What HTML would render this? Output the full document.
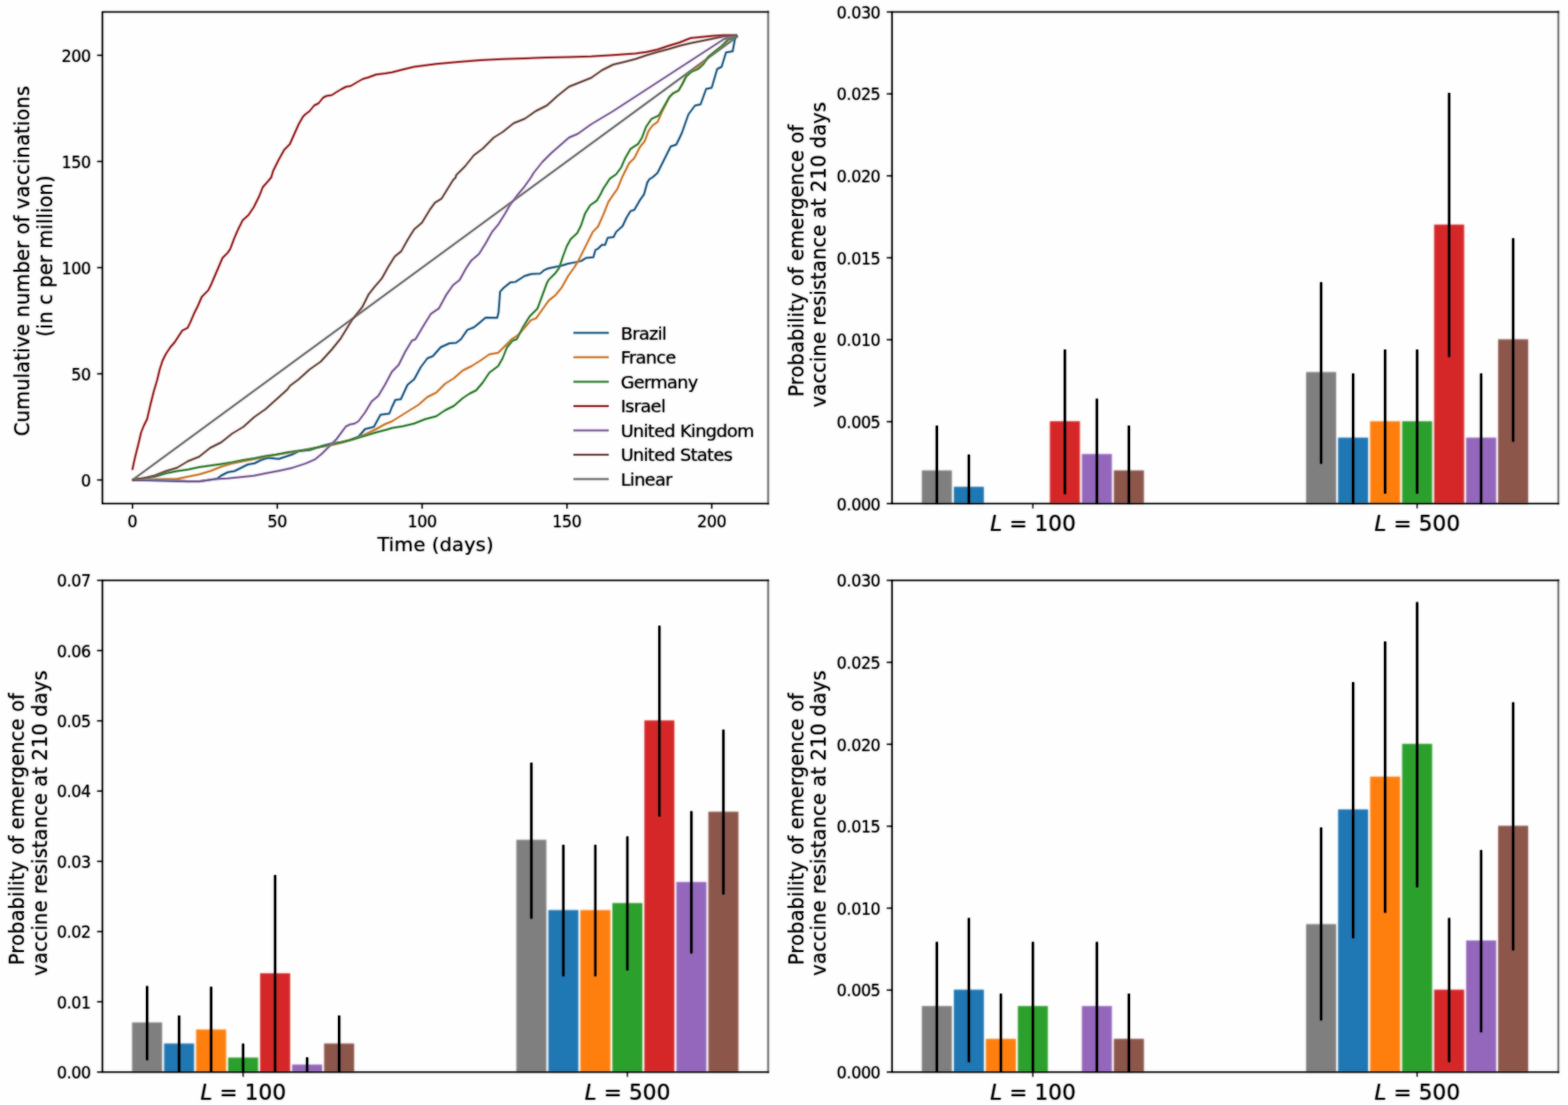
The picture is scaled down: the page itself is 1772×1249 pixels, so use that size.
<!DOCTYPE html>
<html lang="en">
<head>
<meta charset="utf-8">
<title>Vaccination curves and probability of emergence of vaccine resistance</title>
<style>
html,body{margin:0;padding:0;background:#fefefe;}
body{width:1772px;height:1249px;overflow:hidden;}
svg{display:block;font-family:"DejaVu Sans", "Liberation Sans", sans-serif;fill:#1c1c1c;}
</style>
</head>
<body>
<svg width="1772" height="1249" viewBox="0 0 1772 1249">
<defs>
<filter id="soft" x="0" y="0" width="1772" height="1249" filterUnits="userSpaceOnUse" color-interpolation-filters="sRGB"><feGaussianBlur stdDeviation="0.85" result="b"/><feComposite in="b" in2="SourceGraphic" operator="arithmetic" k1="0" k2="0.7" k3="0.30" k4="0"/></filter>
<filter id="softk" x="0" y="0" width="1772" height="1249" filterUnits="userSpaceOnUse" color-interpolation-filters="sRGB"><feGaussianBlur stdDeviation="0.85" result="b"/><feComposite in="b" in2="SourceGraphic" operator="arithmetic" k1="0" k2="0.6" k3="0.40" k4="0"/><feComponentTransfer><feFuncA type="linear" slope="1.32" intercept="0"/></feComponentTransfer></filter>
</defs>
<rect x="0" y="0" width="1772" height="1249" fill="#fefefe" stroke="none"/>
<g filter="url(#soft)">
<rect x="-5" y="-5" width="1782" height="1259" fill="#fefefe" stroke="none"/>
<line x1="868.1" y1="13.5" x2="868.1" y2="569.25" stroke="#585858" stroke-width="1.9" stroke-linecap="square"/>
<rect x="1041.79" y="531.7" width="33.9" height="37.55" fill="#7f7f7f"/>
<rect x="1077.96" y="550.23" width="33.9" height="19.03" fill="#1f77b4"/>
<rect x="1186.47" y="476.12" width="33.9" height="93.12" fill="#d62728"/>
<rect x="1222.64" y="513.17" width="33.9" height="56.08" fill="#9467bd"/>
<rect x="1258.81" y="531.7" width="33.9" height="37.55" fill="#8c564b"/>
<rect x="1476.04" y="420.55" width="33.9" height="148.7" fill="#7f7f7f"/>
<rect x="1512.21" y="494.65" width="33.9" height="74.6" fill="#1f77b4"/>
<rect x="1548.38" y="476.12" width="33.9" height="93.12" fill="#ff7f0e"/>
<rect x="1584.55" y="476.12" width="33.9" height="93.12" fill="#2ca02c"/>
<rect x="1620.72" y="253.82" width="33.9" height="315.43" fill="#d62728"/>
<rect x="1656.89" y="494.65" width="33.9" height="74.6" fill="#9467bd"/>
<rect x="1693.06" y="383.5" width="33.9" height="185.75" fill="#8c564b"/>
<line x1="1761.1" y1="13.5" x2="1761.1" y2="569.25" stroke="#585858" stroke-width="1.9" stroke-linecap="square"/>
<rect x="149.29" y="1155.67" width="33.9" height="56.07" fill="#7f7f7f"/>
<rect x="185.46" y="1179.49" width="33.9" height="32.26" fill="#1f77b4"/>
<rect x="221.63" y="1163.61" width="33.9" height="48.14" fill="#ff7f0e"/>
<rect x="257.8" y="1195.37" width="33.9" height="16.38" fill="#2ca02c"/>
<rect x="293.97" y="1100.1" width="33.9" height="111.65" fill="#d62728"/>
<rect x="330.14" y="1203.31" width="33.9" height="8.44" fill="#9467bd"/>
<rect x="366.31" y="1179.49" width="33.9" height="32.26" fill="#8c564b"/>
<rect x="583.54" y="949.25" width="33.9" height="262.5" fill="#7f7f7f"/>
<rect x="619.71" y="1028.65" width="33.9" height="183.1" fill="#1f77b4"/>
<rect x="655.88" y="1028.65" width="33.9" height="183.1" fill="#ff7f0e"/>
<rect x="692.05" y="1020.71" width="33.9" height="191.04" fill="#2ca02c"/>
<rect x="728.22" y="814.29" width="33.9" height="397.46" fill="#d62728"/>
<rect x="764.39" y="996.89" width="33.9" height="214.86" fill="#9467bd"/>
<rect x="800.56" y="917.5" width="33.9" height="294.25" fill="#8c564b"/>
<line x1="868.1" y1="656" x2="868.1" y2="1211.75" stroke="#585858" stroke-width="1.9" stroke-linecap="square"/>
<rect x="1041.79" y="1137.15" width="33.9" height="74.6" fill="#7f7f7f"/>
<rect x="1077.96" y="1118.62" width="33.9" height="93.12" fill="#1f77b4"/>
<rect x="1114.13" y="1174.2" width="33.9" height="37.55" fill="#ff7f0e"/>
<rect x="1150.3" y="1137.15" width="33.9" height="74.6" fill="#2ca02c"/>
<rect x="1222.64" y="1137.15" width="33.9" height="74.6" fill="#9467bd"/>
<rect x="1258.81" y="1174.2" width="33.9" height="37.55" fill="#8c564b"/>
<rect x="1476.04" y="1044.53" width="33.9" height="167.22" fill="#7f7f7f"/>
<rect x="1512.21" y="914.85" width="33.9" height="296.9" fill="#1f77b4"/>
<rect x="1548.38" y="877.8" width="33.9" height="333.95" fill="#ff7f0e"/>
<rect x="1584.55" y="840.75" width="33.9" height="371" fill="#2ca02c"/>
<rect x="1620.72" y="1118.62" width="33.9" height="93.12" fill="#d62728"/>
<rect x="1656.89" y="1063.05" width="33.9" height="148.7" fill="#9467bd"/>
<rect x="1693.06" y="933.38" width="33.9" height="278.38" fill="#8c564b"/>
<line x1="1761.1" y1="656" x2="1761.1" y2="1211.75" stroke="#585858" stroke-width="1.9" stroke-linecap="square"/>
</g>
<g filter="url(#softk)">
<path d="M149.7,542.5 L833.86,40.9" fill="none" stroke="#7b7b7b" stroke-width="2.0" stroke-linejoin="round" stroke-linecap="butt"/>
<path d="M149.5,542.5 L212.5,544.25 L225,544.25 L245,541.25 L250,537.5 L257.5,533.75 L265,532.5 L272.5,528.75 L280,525 L287.5,523.75 L295,520 L302.5,517.5 L315,518.75 L322.5,516.25 L330,513.75 L337.5,510 L350,508.75 L357.5,506.25 L365,503.75 L375,501.25 L385,500 L395,497.5 L405,493.75 L412.5,485 L422.5,482.5 L430,468.75 L440,467.5 L443,460 L446.75,452 L453,451.25 L460.5,435 L468,428.75 L475.5,415 L483,405 L489.25,402.5 L498,392.5 L508,388 L515.5,387.5 L520.86,383.47 L528.19,372.9 L535.53,369.97 L542.87,364.1 L548.74,358.97 L561.94,359.26 L563.41,353.1 L565.17,329.62 L569.28,325.22 L576.61,319.35 L582.48,318.62 L592.75,312.01 L600.09,309.81 L610.36,309.37 L614.76,305.41 L620,303.21 L627.34,301.74 L634.67,300.27 L642.01,298.07 L649.35,296.61 L656.68,295.14 L662.55,291.47 L670.62,290.74 L672.82,282.67 L675.76,281.2 L680.16,276.8 L683.83,276.8 L686.76,268.73 L693.36,267.99 L696.3,262.13 L703.63,255.52 L708.04,245.99 L712.44,238.65 L716.84,237.18 L722.71,226.91 L727.84,219.57 L731.51,206.37 L733.71,202.7 L737.38,200.5 L743,195.5 L753,175.5 L758,165.5 L764.25,163.5 L770.5,150.5 L778,129.25 L785.5,119.25 L791.75,118 L798,100.5 L804.25,99.25 L810.5,78 L815.5,75.5 L820.5,59.25 L828,58 L830.5,44.25 L831.75,40.5" fill="none" stroke="#376c91" stroke-width="2.0" stroke-linejoin="round" stroke-linecap="butt"/>
<path d="M149.5,542.5 L200,541.25 L212.5,538.75 L225,536.25 L237.5,532.5 L250,527.5 L262.5,523.75 L275,521.25 L287.5,518.75 L300,516.25 L312.5,513.75 L325,511.75 L337.5,510 L350,507.5 L362.5,505 L375,503 L387.5,500 L400,496.25 L412.5,491.25 L425,485 L435,479.5 L443,476.25 L453,470 L463,463.75 L473,457.5 L483,448.75 L493,443.75 L503,433.75 L513,427.5 L523,418.75 L533,413.75 L543,407.5 L553,400.5 L563,398.75 L573,388.75 L578.08,383.47 L585.42,378.77 L592.75,370.7 L600.09,361.9 L605.96,359.7 L614.76,347.23 L620,339.89 L627.34,334.02 L634.67,325.22 L642.01,312.01 L649.35,301.74 L653.75,294.41 L658.15,285.6 L664.02,273.86 L669.89,262.13 L675.76,256.26 L681.63,243.05 L687.49,228.38 L693.36,219.57 L697.77,213.47 L703.63,199.24 L710.97,184.56 L716.84,178.69 L722.71,166.96 L728.58,159.62 L732.98,147.88 L737.38,142.01 L743.25,137.61 L747.65,127.34 L752.05,118.54 L756.46,109.73 L760.86,105.33 L766.73,102.4 L771.13,95.06 L775.53,86.26 L781.4,81.12 L788.74,75.99 L794.6,71.58 L800.47,64.25 L807.81,58.38 L815.15,52.51 L822.48,45.17 L833.49,40.48" fill="none" stroke="#d28541" stroke-width="2.0" stroke-linejoin="round" stroke-linecap="butt"/>
<path d="M149.5,542.5 L162.5,540.5 L175,538.75 L187.5,535 L200,532.5 L212.5,530.75 L225,528 L237.5,526.25 L250,524.5 L262.5,522.5 L275,520 L287.5,518 L300,515.5 L312.5,513.75 L325,511.25 L337.5,509.5 L350,507.5 L362.5,505 L375,502 L387.5,499.5 L400,496.25 L412.5,492.5 L425,488.75 L437.5,485.5 L443,483.75 L455.5,481.75 L468,478.75 L480.5,473.75 L493,470.5 L503,463.75 L513,458.75 L523,450 L530.5,445 L538,441.25 L545.5,432.5 L553,421.25 L563,413.75 L568,405 L573,392.5 L579.25,385 L583.95,383.47 L591.29,369.24 L598.62,357.5 L607.43,348.69 L611.83,336.96 L617.7,320.82 L620,316.41 L627.34,309.08 L631.74,303.21 L636.14,290 L640.54,278.27 L644.94,270.2 L652.28,263.59 L656.68,254.79 L661.08,241.58 L666.95,232.05 L674.29,226.91 L678.69,219.57 L681.63,213.47 L688.96,202.17 L696.3,197.03 L702.17,188.97 L706.57,178.69 L712.44,168.42 L721.24,162.55 L725.64,155.22 L730.05,143.48 L735.91,134.68 L744.72,130.27 L750.59,120 L756.46,109.73 L760.86,105.33 L766.73,102.4 L771.13,95.06 L775.53,86.26 L781.4,81.12 L788.74,78.19 L794.6,73.05 L800.47,64.25 L807.81,58.38 L815.15,52.51 L822.48,45.17 L833.49,40.48" fill="none" stroke="#448a44" stroke-width="2.0" stroke-linejoin="round" stroke-linecap="butt"/>
<path d="M149.5,531.25 L152.5,517.5 L156.25,502.5 L159.5,488.75 L162.5,481.25 L166.25,473.75 L170,457.5 L173.75,442.5 L177.5,430 L180.5,417.5 L183.75,407.5 L187.5,400 L192.5,392.5 L197.5,386.75 L200.16,382.44 L206.03,373.64 L211.9,370.7 L214.83,364.83 L219.23,354.56 L223.63,345.76 L228.04,335.49 L235.37,328.15 L238.31,322.28 L242.71,312.01 L247.11,301.74 L251.51,291.47 L257.38,285.6 L260.32,281.2 L264.72,269.46 L269.12,259.19 L274.26,248.92 L280.86,243.05 L286.73,234.25 L292.6,222.51 L297,211.5 L302.87,204.9 L306.53,200.5 L308.75,193 L315,180.5 L321.25,169.25 L327.5,163 L332.5,151.75 L337.5,140.5 L342.5,131.75 L345,129.25 L350,125.5 L355,119.25 L360,116.75 L365,110.5 L368.75,108.5 L375,107.5 L380,104.25 L386.25,100.5 L391.25,98 L396.25,97.25 L402.5,93.5 L410,89.25 L416.25,87.5 L425,84.25 L435,83 L443,81.75 L455.5,78.5 L468,75.5 L493,72.25 L518,70 L543,68 L568,66.75 L593,66 L618,65 L643,64.5 L668,63.75 L693,62.25 L718,60.5 L730.5,58.75 L743,56 L755.5,51.75 L768,48 L780.5,43 L793,41.75 L805.5,40.5 L818,39.75 L833,39.75" fill="none" stroke="#a2393a" stroke-width="2.0" stroke-linejoin="round" stroke-linecap="butt"/>
<path d="M149.5,542.5 L184.02,542.46 L210.43,543.64 L225.1,543.93 L242.71,541.44 L257.38,540.7 L272.05,539.24 L286.73,537.77 L301.4,534.83 L316.07,531.9 L330.74,528.67 L345.42,523.83 L355.69,519.43 L363.02,513.56 L368.89,507.69 L374.76,501.82 L380.63,495.95 L386.5,487.88 L390.9,482.01 L395.3,479.81 L400,479.08 L405,476.25 L412.5,466.25 L420,453.75 L427.5,447.5 L435,435 L443,420 L450.5,412.5 L458,397.5 L465.5,385 L469.5,383.47 L479.77,366.3 L487.11,354.56 L495.91,348.69 L504.72,332.55 L512.05,322.28 L519.39,316.41 L526.73,303.21 L532.6,294.41 L541.4,287.07 L548.74,275.33 L556.07,262.13 L563.41,253.32 L570.74,241.58 L576.61,231.31 L585.42,219.57 L592.75,210.77 L600.09,200.5 L603,195.5 L613,183 L623,173 L633,164.25 L643,155.5 L653,151.25 L668,140.5 L693,125.5 L718,109.25 L743,93 L768,76.75 L793,60.5 L818,44.25 L833,39.75" fill="none" stroke="#886ca0" stroke-width="2.0" stroke-linejoin="round" stroke-linecap="butt"/>
<path d="M149.5,542.5 L162.5,540.5 L175,537.5 L187.5,532.5 L200,528.75 L212.5,521.25 L225,516.25 L237.5,506.25 L250,500 L262.5,490 L275,482.5 L287.5,471.25 L300,462.5 L312.5,451.25 L325,440 L327.5,436.25 L337.5,428.75 L350,417.5 L362.5,408.75 L375,395 L384.4,383.47 L397.61,361.9 L409.35,347.23 L416.68,332.55 L422.55,325.22 L431.35,314.95 L438.69,301.74 L446.03,290 L453.36,284.13 L460.7,270.93 L468.04,259.19 L476.84,251.85 L485.64,237.18 L491.51,229.11 L498.85,224.71 L504.72,215.17 L512.05,203.43 L514.99,200.5 L515.5,198 L525.5,188 L535.5,175.5 L545.5,168 L558,155.5 L568,149.25 L580.5,139.25 L593,134.25 L605.5,125.5 L618,119.25 L630.5,108 L643,98 L655.5,93 L668,88 L680.5,79.25 L693,73 L705.5,70 L718,66.75 L730.5,62.5 L743,58.75 L755.5,55.5 L768,51.75 L780.5,48.75 L793,46.25 L805.5,43.75 L818,41 L833,39.75" fill="none" stroke="#795952" stroke-width="2.0" stroke-linejoin="round" stroke-linecap="butt"/>
<path d="M868.1,13.5 L115.7,13.5 L115.7,569.25 L868.1,569.25" fill="none" stroke="#141414" stroke-width="1.6" stroke-linecap="square"/>
<line x1="109.7" y1="542.5" x2="115.7" y2="542.5" stroke="#141414" stroke-width="1.4"/>
<text transform="translate(102.9,549.8) scale(1.0,1.08)" font-size="18" text-anchor="end" x="-0.45" letter-spacing="-0.45" stroke="#1c1c1c" stroke-width="0.1">0</text>
<line x1="149.7" y1="569.25" x2="149.7" y2="575.05" stroke="#141414" stroke-width="1.4"/>
<text transform="translate(149.8,595.65) scale(1.0,1.08)" font-size="18" text-anchor="middle" x="-0.23" letter-spacing="-0.45" stroke="#1c1c1c" stroke-width="0.1">0</text>
<line x1="109.7" y1="422.5" x2="115.7" y2="422.5" stroke="#141414" stroke-width="1.4"/>
<text transform="translate(102.9,429.8) scale(1.0,1.08)" font-size="18" text-anchor="end" x="-0.45" letter-spacing="-0.45" stroke="#1c1c1c" stroke-width="0.1">50</text>
<line x1="313.38" y1="569.25" x2="313.38" y2="575.05" stroke="#141414" stroke-width="1.4"/>
<text transform="translate(313.48,595.65) scale(1.0,1.08)" font-size="18" text-anchor="middle" x="-0.23" letter-spacing="-0.45" stroke="#1c1c1c" stroke-width="0.1">50</text>
<line x1="109.7" y1="302.5" x2="115.7" y2="302.5" stroke="#141414" stroke-width="1.4"/>
<text transform="translate(102.9,309.8) scale(1.0,1.08)" font-size="18" text-anchor="end" x="-0.45" letter-spacing="-0.45" stroke="#1c1c1c" stroke-width="0.1">100</text>
<line x1="477.05" y1="569.25" x2="477.05" y2="575.05" stroke="#141414" stroke-width="1.4"/>
<text transform="translate(477.15,595.65) scale(1.0,1.08)" font-size="18" text-anchor="middle" x="-0.23" letter-spacing="-0.45" stroke="#1c1c1c" stroke-width="0.1">100</text>
<line x1="109.7" y1="182.5" x2="115.7" y2="182.5" stroke="#141414" stroke-width="1.4"/>
<text transform="translate(102.9,189.8) scale(1.0,1.08)" font-size="18" text-anchor="end" x="-0.45" letter-spacing="-0.45" stroke="#1c1c1c" stroke-width="0.1">150</text>
<line x1="640.72" y1="569.25" x2="640.72" y2="575.05" stroke="#141414" stroke-width="1.4"/>
<text transform="translate(640.82,595.65) scale(1.0,1.08)" font-size="18" text-anchor="middle" x="-0.23" letter-spacing="-0.45" stroke="#1c1c1c" stroke-width="0.1">150</text>
<line x1="109.7" y1="62.5" x2="115.7" y2="62.5" stroke="#141414" stroke-width="1.4"/>
<text transform="translate(102.9,69.8) scale(1.0,1.08)" font-size="18" text-anchor="end" x="-0.45" letter-spacing="-0.45" stroke="#1c1c1c" stroke-width="0.1">200</text>
<line x1="804.4" y1="569.25" x2="804.4" y2="575.05" stroke="#141414" stroke-width="1.4"/>
<text transform="translate(804.5,595.65) scale(1.0,1.08)" font-size="18" text-anchor="middle" x="-0.23" letter-spacing="-0.45" stroke="#1c1c1c" stroke-width="0.1">200</text>
<text transform="translate(492.1,623) scale(1.0,0.97)" font-size="22" text-anchor="middle" x="0.07" letter-spacing="0.15" stroke="#1c1c1c" stroke-width="0.1">Time (days)</text>
<text transform="translate(33,295) rotate(-90) scale(1.0,1.04)" font-size="22" text-anchor="middle" x="0.07" letter-spacing="0.14" stroke="#1c1c1c" stroke-width="0.1">Cumulative number of vaccinations</text>
<text transform="translate(59,289.5) rotate(-90) scale(1.0,1.04)" font-size="22" text-anchor="middle" x="0.07" letter-spacing="0.14" stroke="#1c1c1c" stroke-width="0.1">(in c per million)</text>
<line x1="648" y1="376.3" x2="688" y2="376.3" stroke="#376c91" stroke-width="2.0"/>
<text transform="translate(701.4,383.5)" font-size="20" text-anchor="start" letter-spacing="-0.72" stroke="#1c1c1c" stroke-width="0.1">Brazil</text>
<line x1="648" y1="403.85" x2="688" y2="403.85" stroke="#d28541" stroke-width="2.0"/>
<text transform="translate(701.4,411.05)" font-size="20" text-anchor="start" letter-spacing="-0.72" stroke="#1c1c1c" stroke-width="0.1">France</text>
<line x1="648" y1="431.4" x2="688" y2="431.4" stroke="#448a44" stroke-width="2.0"/>
<text transform="translate(701.4,438.6)" font-size="20" text-anchor="start" letter-spacing="-0.72" stroke="#1c1c1c" stroke-width="0.1">Germany</text>
<line x1="648" y1="458.95" x2="688" y2="458.95" stroke="#a2393a" stroke-width="2.0"/>
<text transform="translate(701.4,466.15)" font-size="20" text-anchor="start" letter-spacing="-0.72" stroke="#1c1c1c" stroke-width="0.1">Israel</text>
<line x1="648" y1="486.5" x2="688" y2="486.5" stroke="#886ca0" stroke-width="2.0"/>
<text transform="translate(701.4,493.7)" font-size="20" text-anchor="start" letter-spacing="-0.72" stroke="#1c1c1c" stroke-width="0.1">United Kingdom</text>
<line x1="648" y1="514.05" x2="688" y2="514.05" stroke="#795952" stroke-width="2.0"/>
<text transform="translate(701.4,521.25)" font-size="20" text-anchor="start" letter-spacing="-0.72" stroke="#1c1c1c" stroke-width="0.1">United States</text>
<line x1="648" y1="541.6" x2="688" y2="541.6" stroke="#7b7b7b" stroke-width="2.0"/>
<text transform="translate(701.4,548.8)" font-size="20" text-anchor="start" letter-spacing="-0.72" stroke="#1c1c1c" stroke-width="0.1">Linear</text>
<line x1="1058.74" y1="480.98" x2="1058.74" y2="569.25" stroke="#000" stroke-width="2.4"/>
<line x1="1094.91" y1="513.77" x2="1094.91" y2="569.25" stroke="#000" stroke-width="2.4"/>
<line x1="1203.42" y1="395.03" x2="1203.42" y2="558.58" stroke="#000" stroke-width="2.4"/>
<line x1="1239.59" y1="450.6" x2="1239.59" y2="569.25" stroke="#000" stroke-width="2.4"/>
<line x1="1275.76" y1="480.98" x2="1275.76" y2="569.25" stroke="#000" stroke-width="2.4"/>
<line x1="1492.99" y1="318.89" x2="1492.99" y2="524.31" stroke="#000" stroke-width="2.4"/>
<line x1="1529.16" y1="422.07" x2="1529.16" y2="569.25" stroke="#000" stroke-width="2.4"/>
<line x1="1565.33" y1="395.03" x2="1565.33" y2="558.02" stroke="#000" stroke-width="2.4"/>
<line x1="1601.5" y1="395.03" x2="1601.5" y2="558.02" stroke="#000" stroke-width="2.4"/>
<line x1="1637.67" y1="104.92" x2="1637.67" y2="403.52" stroke="#000" stroke-width="2.4"/>
<line x1="1673.84" y1="422.07" x2="1673.84" y2="569.25" stroke="#000" stroke-width="2.4"/>
<line x1="1710.01" y1="269.24" x2="1710.01" y2="499.3" stroke="#000" stroke-width="2.4"/>
<path d="M1761.1,13.5 L1008.1,13.5 L1008.1,569.25 L1761.1,569.25" fill="none" stroke="#141414" stroke-width="1.6" stroke-linecap="square"/>
<line x1="1002.1" y1="569.25" x2="1008.1" y2="569.25" stroke="#141414" stroke-width="1.4"/>
<text transform="translate(995.3,576.55) scale(1.0,1.08)" font-size="18" text-anchor="end" x="-0.45" letter-spacing="-0.45" stroke="#1c1c1c" stroke-width="0.1">0.000</text>
<line x1="1002.1" y1="476.62" x2="1008.1" y2="476.62" stroke="#141414" stroke-width="1.4"/>
<text transform="translate(995.3,483.93) scale(1.0,1.08)" font-size="18" text-anchor="end" x="-0.45" letter-spacing="-0.45" stroke="#1c1c1c" stroke-width="0.1">0.005</text>
<line x1="1002.1" y1="384" x2="1008.1" y2="384" stroke="#141414" stroke-width="1.4"/>
<text transform="translate(995.3,391.3) scale(1.0,1.08)" font-size="18" text-anchor="end" x="-0.45" letter-spacing="-0.45" stroke="#1c1c1c" stroke-width="0.1">0.010</text>
<line x1="1002.1" y1="291.38" x2="1008.1" y2="291.38" stroke="#141414" stroke-width="1.4"/>
<text transform="translate(995.3,298.68) scale(1.0,1.08)" font-size="18" text-anchor="end" x="-0.45" letter-spacing="-0.45" stroke="#1c1c1c" stroke-width="0.1">0.015</text>
<line x1="1002.1" y1="198.75" x2="1008.1" y2="198.75" stroke="#141414" stroke-width="1.4"/>
<text transform="translate(995.3,206.05) scale(1.0,1.08)" font-size="18" text-anchor="end" x="-0.45" letter-spacing="-0.45" stroke="#1c1c1c" stroke-width="0.1">0.020</text>
<line x1="1002.1" y1="106.12" x2="1008.1" y2="106.12" stroke="#141414" stroke-width="1.4"/>
<text transform="translate(995.3,113.42) scale(1.0,1.08)" font-size="18" text-anchor="end" x="-0.45" letter-spacing="-0.45" stroke="#1c1c1c" stroke-width="0.1">0.025</text>
<line x1="1002.1" y1="13.5" x2="1008.1" y2="13.5" stroke="#141414" stroke-width="1.4"/>
<text transform="translate(995.3,20.8) scale(1.0,1.08)" font-size="18" text-anchor="end" x="-0.45" letter-spacing="-0.45" stroke="#1c1c1c" stroke-width="0.1">0.030</text>
<line x1="1167.25" y1="569.25" x2="1167.25" y2="574.65" stroke="#141414" stroke-width="1.25"/>
<text transform="translate(1167.45,600.25)" font-size="24.6" text-anchor="middle" stroke="#1c1c1c" stroke-width="0.1"><tspan font-style="italic">L</tspan> = 100</text>
<line x1="1601.5" y1="569.25" x2="1601.5" y2="574.65" stroke="#141414" stroke-width="1.25"/>
<text transform="translate(1601.7,600.25)" font-size="24.6" text-anchor="middle" stroke="#1c1c1c" stroke-width="0.1"><tspan font-style="italic">L</tspan> = 500</text>
<text transform="translate(907.8,294.77) rotate(-90) scale(1.0,1.04)" font-size="22" text-anchor="middle" x="0.07" letter-spacing="0.14" stroke="#1c1c1c" stroke-width="0.1">Probability of emergence of</text>
<text transform="translate(933.1,287.88) rotate(-90) scale(1.0,1.04)" font-size="22" text-anchor="middle" x="0.07" letter-spacing="0.14" stroke="#1c1c1c" stroke-width="0.1">vaccine resistance at 210 days</text>
<line x1="166.24" y1="1114.48" x2="166.24" y2="1198.46" stroke="#000" stroke-width="2.4"/>
<line x1="202.41" y1="1147.83" x2="202.41" y2="1211.75" stroke="#000" stroke-width="2.4"/>
<line x1="238.58" y1="1115.28" x2="238.58" y2="1211.75" stroke="#000" stroke-width="2.4"/>
<line x1="274.75" y1="1179.59" x2="274.75" y2="1211.75" stroke="#000" stroke-width="2.4"/>
<line x1="310.92" y1="989.04" x2="310.92" y2="1211.75" stroke="#000" stroke-width="2.4"/>
<line x1="347.09" y1="1195.07" x2="347.09" y2="1211.75" stroke="#000" stroke-width="2.4"/>
<line x1="383.26" y1="1147.83" x2="383.26" y2="1211.75" stroke="#000" stroke-width="2.4"/>
<line x1="600.49" y1="862.02" x2="600.49" y2="1038.48" stroke="#000" stroke-width="2.4"/>
<line x1="636.66" y1="954.9" x2="636.66" y2="1103.51" stroke="#000" stroke-width="2.4"/>
<line x1="672.83" y1="954.9" x2="672.83" y2="1103.51" stroke="#000" stroke-width="2.4"/>
<line x1="709" y1="945.38" x2="709" y2="1096.84" stroke="#000" stroke-width="2.4"/>
<line x1="745.17" y1="707.2" x2="745.17" y2="922.97" stroke="#000" stroke-width="2.4"/>
<line x1="781.34" y1="916.8" x2="781.34" y2="1077.78" stroke="#000" stroke-width="2.4"/>
<line x1="817.51" y1="824.7" x2="817.51" y2="1011.09" stroke="#000" stroke-width="2.4"/>
<path d="M868.1,656 L115.7,656 L115.7,1211.75 L868.1,1211.75" fill="none" stroke="#141414" stroke-width="1.6" stroke-linecap="square"/>
<line x1="109.7" y1="1211.75" x2="115.7" y2="1211.75" stroke="#141414" stroke-width="1.4"/>
<text transform="translate(102.9,1219.05) scale(1.0,1.08)" font-size="18" text-anchor="end" x="-0.45" letter-spacing="-0.45" stroke="#1c1c1c" stroke-width="0.1">0.00</text>
<line x1="109.7" y1="1132.36" x2="115.7" y2="1132.36" stroke="#141414" stroke-width="1.4"/>
<text transform="translate(102.9,1139.66) scale(1.0,1.08)" font-size="18" text-anchor="end" x="-0.45" letter-spacing="-0.45" stroke="#1c1c1c" stroke-width="0.1">0.01</text>
<line x1="109.7" y1="1052.96" x2="115.7" y2="1052.96" stroke="#141414" stroke-width="1.4"/>
<text transform="translate(102.9,1060.26) scale(1.0,1.08)" font-size="18" text-anchor="end" x="-0.45" letter-spacing="-0.45" stroke="#1c1c1c" stroke-width="0.1">0.02</text>
<line x1="109.7" y1="973.57" x2="115.7" y2="973.57" stroke="#141414" stroke-width="1.4"/>
<text transform="translate(102.9,980.87) scale(1.0,1.08)" font-size="18" text-anchor="end" x="-0.45" letter-spacing="-0.45" stroke="#1c1c1c" stroke-width="0.1">0.03</text>
<line x1="109.7" y1="894.18" x2="115.7" y2="894.18" stroke="#141414" stroke-width="1.4"/>
<text transform="translate(102.9,901.48) scale(1.0,1.08)" font-size="18" text-anchor="end" x="-0.45" letter-spacing="-0.45" stroke="#1c1c1c" stroke-width="0.1">0.04</text>
<line x1="109.7" y1="814.79" x2="115.7" y2="814.79" stroke="#141414" stroke-width="1.4"/>
<text transform="translate(102.9,822.09) scale(1.0,1.08)" font-size="18" text-anchor="end" x="-0.45" letter-spacing="-0.45" stroke="#1c1c1c" stroke-width="0.1">0.05</text>
<line x1="109.7" y1="735.39" x2="115.7" y2="735.39" stroke="#141414" stroke-width="1.4"/>
<text transform="translate(102.9,742.69) scale(1.0,1.08)" font-size="18" text-anchor="end" x="-0.45" letter-spacing="-0.45" stroke="#1c1c1c" stroke-width="0.1">0.06</text>
<line x1="109.7" y1="656" x2="115.7" y2="656" stroke="#141414" stroke-width="1.4"/>
<text transform="translate(102.9,663.3) scale(1.0,1.08)" font-size="18" text-anchor="end" x="-0.45" letter-spacing="-0.45" stroke="#1c1c1c" stroke-width="0.1">0.07</text>
<line x1="274.75" y1="1211.75" x2="274.75" y2="1217.15" stroke="#141414" stroke-width="1.25"/>
<text transform="translate(274.95,1242.75)" font-size="24.6" text-anchor="middle" stroke="#1c1c1c" stroke-width="0.1"><tspan font-style="italic">L</tspan> = 100</text>
<line x1="709" y1="1211.75" x2="709" y2="1217.15" stroke="#141414" stroke-width="1.25"/>
<text transform="translate(709.2,1242.75)" font-size="24.6" text-anchor="middle" stroke="#1c1c1c" stroke-width="0.1"><tspan font-style="italic">L</tspan> = 500</text>
<text transform="translate(27,937.27) rotate(-90) scale(1.0,1.04)" font-size="22" text-anchor="middle" x="0.07" letter-spacing="0.14" stroke="#1c1c1c" stroke-width="0.1">Probability of emergence of</text>
<text transform="translate(52.6,930.38) rotate(-90) scale(1.0,1.04)" font-size="22" text-anchor="middle" x="0.07" letter-spacing="0.14" stroke="#1c1c1c" stroke-width="0.1">vaccine resistance at 210 days</text>
<line x1="1058.74" y1="1064.57" x2="1058.74" y2="1211.75" stroke="#000" stroke-width="2.4"/>
<line x1="1094.91" y1="1037.53" x2="1094.91" y2="1200.52" stroke="#000" stroke-width="2.4"/>
<line x1="1131.08" y1="1123.11" x2="1131.08" y2="1211.75" stroke="#000" stroke-width="2.4"/>
<line x1="1167.25" y1="1064.57" x2="1167.25" y2="1211.75" stroke="#000" stroke-width="2.4"/>
<line x1="1239.59" y1="1064.57" x2="1239.59" y2="1211.75" stroke="#000" stroke-width="2.4"/>
<line x1="1275.76" y1="1123.11" x2="1275.76" y2="1211.75" stroke="#000" stroke-width="2.4"/>
<line x1="1492.99" y1="935.27" x2="1492.99" y2="1153.47" stroke="#000" stroke-width="2.4"/>
<line x1="1529.16" y1="770.95" x2="1529.16" y2="1060.47" stroke="#000" stroke-width="2.4"/>
<line x1="1565.33" y1="725.01" x2="1565.33" y2="1031.76" stroke="#000" stroke-width="2.4"/>
<line x1="1601.5" y1="680.55" x2="1601.5" y2="1003.05" stroke="#000" stroke-width="2.4"/>
<line x1="1637.67" y1="1037.53" x2="1637.67" y2="1200.52" stroke="#000" stroke-width="2.4"/>
<line x1="1673.84" y1="960.83" x2="1673.84" y2="1166.81" stroke="#000" stroke-width="2.4"/>
<line x1="1710.01" y1="793.74" x2="1710.01" y2="1074.18" stroke="#000" stroke-width="2.4"/>
<path d="M1761.1,656 L1008.1,656 L1008.1,1211.75 L1761.1,1211.75" fill="none" stroke="#141414" stroke-width="1.6" stroke-linecap="square"/>
<line x1="1002.1" y1="1211.75" x2="1008.1" y2="1211.75" stroke="#141414" stroke-width="1.4"/>
<text transform="translate(995.3,1219.05) scale(1.0,1.08)" font-size="18" text-anchor="end" x="-0.45" letter-spacing="-0.45" stroke="#1c1c1c" stroke-width="0.1">0.000</text>
<line x1="1002.1" y1="1119.12" x2="1008.1" y2="1119.12" stroke="#141414" stroke-width="1.4"/>
<text transform="translate(995.3,1126.42) scale(1.0,1.08)" font-size="18" text-anchor="end" x="-0.45" letter-spacing="-0.45" stroke="#1c1c1c" stroke-width="0.1">0.005</text>
<line x1="1002.1" y1="1026.5" x2="1008.1" y2="1026.5" stroke="#141414" stroke-width="1.4"/>
<text transform="translate(995.3,1033.8) scale(1.0,1.08)" font-size="18" text-anchor="end" x="-0.45" letter-spacing="-0.45" stroke="#1c1c1c" stroke-width="0.1">0.010</text>
<line x1="1002.1" y1="933.88" x2="1008.1" y2="933.88" stroke="#141414" stroke-width="1.4"/>
<text transform="translate(995.3,941.17) scale(1.0,1.08)" font-size="18" text-anchor="end" x="-0.45" letter-spacing="-0.45" stroke="#1c1c1c" stroke-width="0.1">0.015</text>
<line x1="1002.1" y1="841.25" x2="1008.1" y2="841.25" stroke="#141414" stroke-width="1.4"/>
<text transform="translate(995.3,848.55) scale(1.0,1.08)" font-size="18" text-anchor="end" x="-0.45" letter-spacing="-0.45" stroke="#1c1c1c" stroke-width="0.1">0.020</text>
<line x1="1002.1" y1="748.62" x2="1008.1" y2="748.62" stroke="#141414" stroke-width="1.4"/>
<text transform="translate(995.3,755.92) scale(1.0,1.08)" font-size="18" text-anchor="end" x="-0.45" letter-spacing="-0.45" stroke="#1c1c1c" stroke-width="0.1">0.025</text>
<line x1="1002.1" y1="656" x2="1008.1" y2="656" stroke="#141414" stroke-width="1.4"/>
<text transform="translate(995.3,663.3) scale(1.0,1.08)" font-size="18" text-anchor="end" x="-0.45" letter-spacing="-0.45" stroke="#1c1c1c" stroke-width="0.1">0.030</text>
<line x1="1167.25" y1="1211.75" x2="1167.25" y2="1217.15" stroke="#141414" stroke-width="1.25"/>
<text transform="translate(1167.45,1242.75)" font-size="24.6" text-anchor="middle" stroke="#1c1c1c" stroke-width="0.1"><tspan font-style="italic">L</tspan> = 100</text>
<line x1="1601.5" y1="1211.75" x2="1601.5" y2="1217.15" stroke="#141414" stroke-width="1.25"/>
<text transform="translate(1601.7,1242.75)" font-size="24.6" text-anchor="middle" stroke="#1c1c1c" stroke-width="0.1"><tspan font-style="italic">L</tspan> = 500</text>
<text transform="translate(907.8,937.27) rotate(-90) scale(1.0,1.04)" font-size="22" text-anchor="middle" x="0.07" letter-spacing="0.14" stroke="#1c1c1c" stroke-width="0.1">Probability of emergence of</text>
<text transform="translate(933.1,930.38) rotate(-90) scale(1.0,1.04)" font-size="22" text-anchor="middle" x="0.07" letter-spacing="0.14" stroke="#1c1c1c" stroke-width="0.1">vaccine resistance at 210 days</text>
</g>
</svg>
</body>
</html>
